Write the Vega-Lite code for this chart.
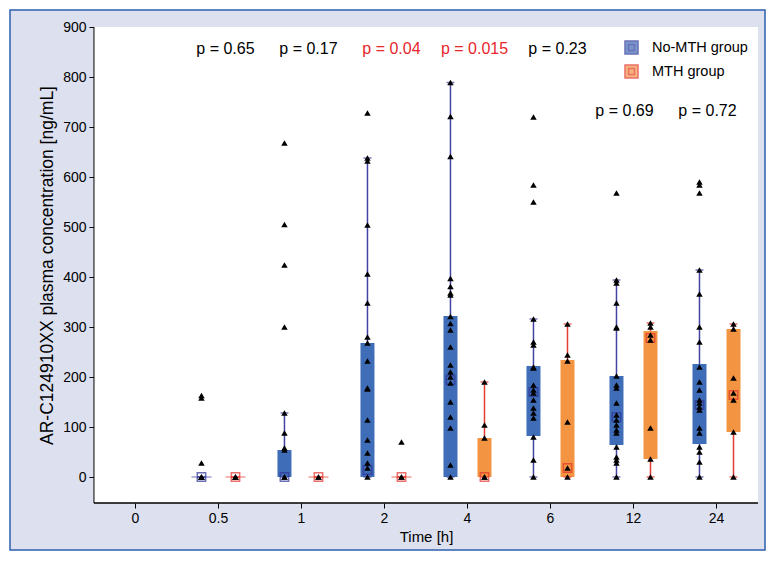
{
  "$schema": "https://vega.github.io/schema/vega-lite/v6.json",
  "width": 755,
  "height": 540,
  "autosize": {"type": "none"},
  "padding": {"left": 10, "top": 10, "right": 10, "bottom": 13},
  "background": "white",
  "config": {
    "view": {"fill": "#dde1ef", "stroke": "#2d5fae", "strokeWidth": 1.5},
    "font": "Liberation Sans",
    "axis": {"labelFont": "Liberation Sans", "labelFontSize": 14, "labelColor": "black", "titleFont": "Liberation Sans", "titleFontSize": 15, "titleFontWeight": "normal", "titleColor": "black", "tickColor": "black", "grid": false, "domain": false, "tickSize": 5, "labelPadding": 3}
  },
  "datasets": {
    "cats": [{"time": "0"}, {"time": "0.5"}, {"time": "1"}, {"time": "2"}, {"time": "4"}, {"time": "6"}, {"time": "12"}, {"time": "24"}],
    "summ": [
      {"time": "0.5", "group": "No-MTH group", "lo": 0, "q1": 0, "mid": 0, "q3": 0, "hi": 0},
      {"time": "0.5", "group": "MTH group", "lo": 0, "q1": 0, "mid": 0, "q3": 0, "hi": 0},
      {"time": "1", "group": "No-MTH group", "lo": 0, "q1": 0, "mid": 0, "q3": 54, "hi": 128},
      {"time": "1", "group": "MTH group", "lo": 0, "q1": 0, "mid": 0, "q3": 0, "hi": 0},
      {"time": "2", "group": "No-MTH group", "lo": 0, "q1": 0, "mid": 14, "q3": 268, "hi": 638},
      {"time": "2", "group": "MTH group", "lo": 0, "q1": 0, "mid": 0, "q3": 0, "hi": 0},
      {"time": "4", "group": "No-MTH group", "lo": 0, "q1": 0, "mid": 194, "q3": 322, "hi": 789},
      {"time": "4", "group": "MTH group", "lo": 0, "q1": 0, "mid": 0, "q3": 78, "hi": 190},
      {"time": "6", "group": "No-MTH group", "lo": 0, "q1": 82, "mid": 170, "q3": 222, "hi": 316},
      {"time": "6", "group": "MTH group", "lo": 0, "q1": 0, "mid": 18, "q3": 234, "hi": 306},
      {"time": "12", "group": "No-MTH group", "lo": 0, "q1": 64, "mid": 120, "q3": 202, "hi": 394},
      {"time": "12", "group": "MTH group", "lo": 0, "q1": 36, "mid": 278, "q3": 292, "hi": 308},
      {"time": "24", "group": "No-MTH group", "lo": 0, "q1": 66, "mid": 144, "q3": 226, "hi": 414},
      {"time": "24", "group": "MTH group", "lo": 0, "q1": 90, "mid": 164, "q3": 296, "hi": 306}
    ],
    "pv": [
      {"time": "0.5", "label": "p = 0.65", "p": 0.65},
      {"time": "1", "label": "p = 0.17", "p": 0.17},
      {"time": "2", "label": "p = 0.04", "p": 0.04},
      {"time": "4", "label": "p = 0.015", "p": 0.015},
      {"time": "6", "label": "p = 0.23", "p": 0.23},
      {"time": "12", "label": "p = 0.69", "p": 0.69},
      {"time": "24", "label": "p = 0.72", "p": 0.72}
    ],
    "pts": [
      {"time": "0.5", "group": "No-MTH group", "value": 163},
      {"time": "0.5", "group": "No-MTH group", "value": 158},
      {"time": "0.5", "group": "No-MTH group", "value": 28},
      {"time": "0.5", "group": "No-MTH group", "value": 0},
      {"time": "0.5", "group": "No-MTH group", "value": 0},
      {"time": "0.5", "group": "No-MTH group", "value": 0},
      {"time": "0.5", "group": "MTH group", "value": 0},
      {"time": "0.5", "group": "MTH group", "value": 0},
      {"time": "0.5", "group": "MTH group", "value": 0},
      {"time": "1", "group": "No-MTH group", "value": 668},
      {"time": "1", "group": "No-MTH group", "value": 505},
      {"time": "1", "group": "No-MTH group", "value": 424},
      {"time": "1", "group": "No-MTH group", "value": 300},
      {"time": "1", "group": "No-MTH group", "value": 128},
      {"time": "1", "group": "No-MTH group", "value": 88},
      {"time": "1", "group": "No-MTH group", "value": 58},
      {"time": "1", "group": "No-MTH group", "value": 54},
      {"time": "1", "group": "No-MTH group", "value": 0},
      {"time": "1", "group": "No-MTH group", "value": 0},
      {"time": "1", "group": "MTH group", "value": 0},
      {"time": "1", "group": "MTH group", "value": 0},
      {"time": "2", "group": "No-MTH group", "value": 728},
      {"time": "2", "group": "No-MTH group", "value": 638},
      {"time": "2", "group": "No-MTH group", "value": 632},
      {"time": "2", "group": "No-MTH group", "value": 504},
      {"time": "2", "group": "No-MTH group", "value": 406},
      {"time": "2", "group": "No-MTH group", "value": 348},
      {"time": "2", "group": "No-MTH group", "value": 280},
      {"time": "2", "group": "No-MTH group", "value": 268},
      {"time": "2", "group": "No-MTH group", "value": 232},
      {"time": "2", "group": "No-MTH group", "value": 178},
      {"time": "2", "group": "No-MTH group", "value": 176},
      {"time": "2", "group": "No-MTH group", "value": 114},
      {"time": "2", "group": "No-MTH group", "value": 74},
      {"time": "2", "group": "No-MTH group", "value": 48},
      {"time": "2", "group": "No-MTH group", "value": 28},
      {"time": "2", "group": "No-MTH group", "value": 18},
      {"time": "2", "group": "No-MTH group", "value": 0},
      {"time": "2", "group": "MTH group", "value": 70},
      {"time": "2", "group": "MTH group", "value": 0},
      {"time": "2", "group": "MTH group", "value": 0},
      {"time": "4", "group": "No-MTH group", "value": 789},
      {"time": "4", "group": "No-MTH group", "value": 721},
      {"time": "4", "group": "No-MTH group", "value": 641},
      {"time": "4", "group": "No-MTH group", "value": 397},
      {"time": "4", "group": "No-MTH group", "value": 381},
      {"time": "4", "group": "No-MTH group", "value": 368},
      {"time": "4", "group": "No-MTH group", "value": 364},
      {"time": "4", "group": "No-MTH group", "value": 321},
      {"time": "4", "group": "No-MTH group", "value": 307},
      {"time": "4", "group": "No-MTH group", "value": 294},
      {"time": "4", "group": "No-MTH group", "value": 260},
      {"time": "4", "group": "No-MTH group", "value": 224},
      {"time": "4", "group": "No-MTH group", "value": 210},
      {"time": "4", "group": "No-MTH group", "value": 200},
      {"time": "4", "group": "No-MTH group", "value": 188},
      {"time": "4", "group": "No-MTH group", "value": 150},
      {"time": "4", "group": "No-MTH group", "value": 120},
      {"time": "4", "group": "No-MTH group", "value": 98},
      {"time": "4", "group": "No-MTH group", "value": 24},
      {"time": "4", "group": "No-MTH group", "value": 0},
      {"time": "4", "group": "MTH group", "value": 190},
      {"time": "4", "group": "MTH group", "value": 104},
      {"time": "4", "group": "MTH group", "value": 78},
      {"time": "4", "group": "MTH group", "value": 0},
      {"time": "4", "group": "MTH group", "value": 0},
      {"time": "6", "group": "No-MTH group", "value": 720},
      {"time": "6", "group": "No-MTH group", "value": 584},
      {"time": "6", "group": "No-MTH group", "value": 550},
      {"time": "6", "group": "No-MTH group", "value": 316},
      {"time": "6", "group": "No-MTH group", "value": 270},
      {"time": "6", "group": "No-MTH group", "value": 264},
      {"time": "6", "group": "No-MTH group", "value": 220},
      {"time": "6", "group": "No-MTH group", "value": 218},
      {"time": "6", "group": "No-MTH group", "value": 184},
      {"time": "6", "group": "No-MTH group", "value": 174},
      {"time": "6", "group": "No-MTH group", "value": 168},
      {"time": "6", "group": "No-MTH group", "value": 154},
      {"time": "6", "group": "No-MTH group", "value": 138},
      {"time": "6", "group": "No-MTH group", "value": 128},
      {"time": "6", "group": "No-MTH group", "value": 118},
      {"time": "6", "group": "No-MTH group", "value": 80},
      {"time": "6", "group": "No-MTH group", "value": 34},
      {"time": "6", "group": "No-MTH group", "value": 0},
      {"time": "6", "group": "MTH group", "value": 306},
      {"time": "6", "group": "MTH group", "value": 244},
      {"time": "6", "group": "MTH group", "value": 232},
      {"time": "6", "group": "MTH group", "value": 110},
      {"time": "6", "group": "MTH group", "value": 18},
      {"time": "6", "group": "MTH group", "value": 0},
      {"time": "12", "group": "No-MTH group", "value": 568},
      {"time": "12", "group": "No-MTH group", "value": 394},
      {"time": "12", "group": "No-MTH group", "value": 388},
      {"time": "12", "group": "No-MTH group", "value": 348},
      {"time": "12", "group": "No-MTH group", "value": 300},
      {"time": "12", "group": "No-MTH group", "value": 298},
      {"time": "12", "group": "No-MTH group", "value": 202},
      {"time": "12", "group": "No-MTH group", "value": 184},
      {"time": "12", "group": "No-MTH group", "value": 178},
      {"time": "12", "group": "No-MTH group", "value": 148},
      {"time": "12", "group": "No-MTH group", "value": 124},
      {"time": "12", "group": "No-MTH group", "value": 114},
      {"time": "12", "group": "No-MTH group", "value": 104},
      {"time": "12", "group": "No-MTH group", "value": 94},
      {"time": "12", "group": "No-MTH group", "value": 88},
      {"time": "12", "group": "No-MTH group", "value": 60},
      {"time": "12", "group": "No-MTH group", "value": 40},
      {"time": "12", "group": "No-MTH group", "value": 34},
      {"time": "12", "group": "No-MTH group", "value": 28},
      {"time": "12", "group": "No-MTH group", "value": 0},
      {"time": "12", "group": "MTH group", "value": 308},
      {"time": "12", "group": "MTH group", "value": 300},
      {"time": "12", "group": "MTH group", "value": 284},
      {"time": "12", "group": "MTH group", "value": 274},
      {"time": "12", "group": "MTH group", "value": 98},
      {"time": "12", "group": "MTH group", "value": 36},
      {"time": "12", "group": "MTH group", "value": 0},
      {"time": "24", "group": "No-MTH group", "value": 590},
      {"time": "24", "group": "No-MTH group", "value": 584},
      {"time": "24", "group": "No-MTH group", "value": 568},
      {"time": "24", "group": "No-MTH group", "value": 414},
      {"time": "24", "group": "No-MTH group", "value": 366},
      {"time": "24", "group": "No-MTH group", "value": 300},
      {"time": "24", "group": "No-MTH group", "value": 270},
      {"time": "24", "group": "No-MTH group", "value": 220},
      {"time": "24", "group": "No-MTH group", "value": 190},
      {"time": "24", "group": "No-MTH group", "value": 174},
      {"time": "24", "group": "No-MTH group", "value": 154},
      {"time": "24", "group": "No-MTH group", "value": 148},
      {"time": "24", "group": "No-MTH group", "value": 140},
      {"time": "24", "group": "No-MTH group", "value": 134},
      {"time": "24", "group": "No-MTH group", "value": 98},
      {"time": "24", "group": "No-MTH group", "value": 88},
      {"time": "24", "group": "No-MTH group", "value": 60},
      {"time": "24", "group": "No-MTH group", "value": 50},
      {"time": "24", "group": "No-MTH group", "value": 30},
      {"time": "24", "group": "No-MTH group", "value": 0},
      {"time": "24", "group": "MTH group", "value": 306},
      {"time": "24", "group": "MTH group", "value": 296},
      {"time": "24", "group": "MTH group", "value": 198},
      {"time": "24", "group": "MTH group", "value": 168},
      {"time": "24", "group": "MTH group", "value": 154},
      {"time": "24", "group": "MTH group", "value": 90},
      {"time": "24", "group": "MTH group", "value": 0}
    ]
  },
  "layer": [
    {
      "data": {"name": "cats"},
      "mark": {"type": "bar", "fill": "white", "strokeWidth": 0},
      "encoding": {
        "x": {
          "field": "time", "type": "nominal",
          "scale": {"type": "band", "domain": ["0", "0.5", "1", "2", "4", "6", "12", "24"], "paddingInner": 0, "paddingOuter": 0.548, "align": 0.923},
          "axis": {"title": "Time [h]", "labelAngle": 0, "offset": -47, "titleX": 416, "titlePadding": 4}
        },
        "y": {
          "datum": 900, "type": "quantitative",
          "scale": {"domain": [-146, 934], "nice": false, "zero": false},
          "axis": {"title": "AR-C124910XX plasma concentration [ng/mL]", "titleFontSize": 17.5, "values": [0, 100, 200, 300, 400, 500, 600, 700, 800, 900], "offset": -84, "titleY": 255, "titlePadding": 6}
        },
        "y2": {"datum": -52}
      }
    },
    {
      "data": {"name": "cats"},
      "mark": {"type": "bar", "fillOpacity": 0, "stroke": "black", "strokeWidth": 1},
      "encoding": {
        "x": {"field": "time", "type": "nominal"},
        "y": {"datum": -52, "type": "quantitative"},
        "y2": {"datum": -52}
      }
    },
    {
      "data": {"name": "cats"},
      "transform": [{"filter": "datum.time === '0'"}],
      "mark": {"type": "rule", "color": "black", "strokeWidth": 1},
      "encoding": {
        "x": {"field": "time", "type": "nominal", "bandPosition": 0},
        "y": {"datum": -52, "type": "quantitative"},
        "y2": {"datum": 900}
      }
    },
    {
      "data": {"name": "summ"},
      "mark": {"type": "rule", "strokeWidth": 1.5},
      "encoding": {
        "x": {"field": "time", "type": "nominal"},
        "xOffset": {"field": "group", "type": "nominal", "scale": {"domain": ["No-MTH group", "MTH group"], "paddingInner": 0, "paddingOuter": 0.22}},
        "y": {"field": "lo", "type": "quantitative"},
        "y2": {"field": "hi"},
        "color": {"field": "group", "type": "nominal", "scale": {"range": ["#e63b30", "#4343a3"]}, "legend": null}
      }
    },
    {
      "data": {"name": "summ"},
      "mark": {"type": "bar", "width": 14},
      "encoding": {
        "x": {"field": "time", "type": "nominal"},
        "xOffset": {"field": "group", "type": "nominal"},
        "y": {"field": "q1", "type": "quantitative"},
        "y2": {"field": "q3"},
        "fill": {
          "field": "group", "type": "nominal",
          "scale": {"domain": ["No-MTH group", "MTH group"], "range": ["#3f6db8", "#f39443"]},
          "legend": {
            "title": null, "orient": "none", "legendX": 614, "legendY": 30, "padding": 0,
            "symbolType": "M-1,-1H1V1H-1Z M-0.45,-0.45H0.45V0.45H-0.45Z",
            "symbolSize": 169, "symbolStrokeWidth": 1.5,
            "labelFont": "Liberation Sans", "labelFontSize": 14.5, "labelColor": "black",
            "rowPadding": 5, "labelOffset": 13
          }
        }
      }
    },
    {
      "data": {"name": "summ"},
      "transform": [{"filter": "datum.q3 === 0"}],
      "mark": {"type": "tick", "size": 20, "thickness": 1.5, "opacity": 0.5},
      "encoding": {
        "x": {"field": "time", "type": "nominal"},
        "xOffset": {"field": "group", "type": "nominal"},
        "y": {"field": "q3", "type": "quantitative"},
        "color": {"field": "group", "type": "nominal", "legend": null}
      }
    },
    {
      "data": {"name": "summ"},
      "transform": [{"fold": ["lo", "hi"], "as": ["end", "v"]}],
      "mark": {"type": "tick", "size": 8, "thickness": 1.5},
      "encoding": {
        "x": {"field": "time", "type": "nominal"},
        "xOffset": {"field": "group", "type": "nominal"},
        "y": {"field": "v", "type": "quantitative"},
        "color": {"field": "group", "type": "nominal", "legend": null}
      }
    },
    {
      "data": {"name": "summ"},
      "mark": {"type": "point", "shape": "square", "filled": false, "size": 70, "strokeWidth": 1.5},
      "encoding": {
        "x": {"field": "time", "type": "nominal"},
        "xOffset": {"field": "group", "type": "nominal"},
        "y": {"field": "mid", "type": "quantitative"},
        "stroke": {"field": "group", "type": "nominal", "scale": {"domain": ["No-MTH group", "MTH group"], "range": ["#2f3596", "#e3342b"]}}
      }
    },
    {
      "data": {"name": "pts"},
      "mark": {"type": "point", "shape": "triangle-up", "filled": true, "color": "black", "size": 42, "opacity": 1},
      "encoding": {
        "x": {"field": "time", "type": "nominal"},
        "xOffset": {"field": "group", "type": "nominal"},
        "y": {"field": "value", "type": "quantitative"}
      }
    },
    {
      "data": {"name": "pv"},
      "transform": [{"filter": {"not": {"field": "time", "oneOf": ["12", "24"]}}}],
      "mark": {"type": "text", "fontSize": 16, "font": "Liberation Sans", "dx": 7, "baseline": "middle", "align": "center"},
      "encoding": {
        "x": {"field": "time", "type": "nominal"},
        "y": {"datum": 856, "type": "quantitative"},
        "text": {"field": "label"},
        "color": {"condition": {"test": "datum.p < 0.05", "value": "#e8262b"}, "value": "black"}
      }
    },
    {
      "data": {"name": "pv"},
      "transform": [{"filter": {"field": "time", "oneOf": ["12", "24"]}}],
      "mark": {"type": "text", "fontSize": 16, "font": "Liberation Sans", "dx": -9, "baseline": "middle", "align": "center"},
      "encoding": {
        "x": {"field": "time", "type": "nominal"},
        "y": {"datum": 732, "type": "quantitative"},
        "text": {"field": "label"},
        "color": {"value": "black"}
      }
    }
  ]
}
